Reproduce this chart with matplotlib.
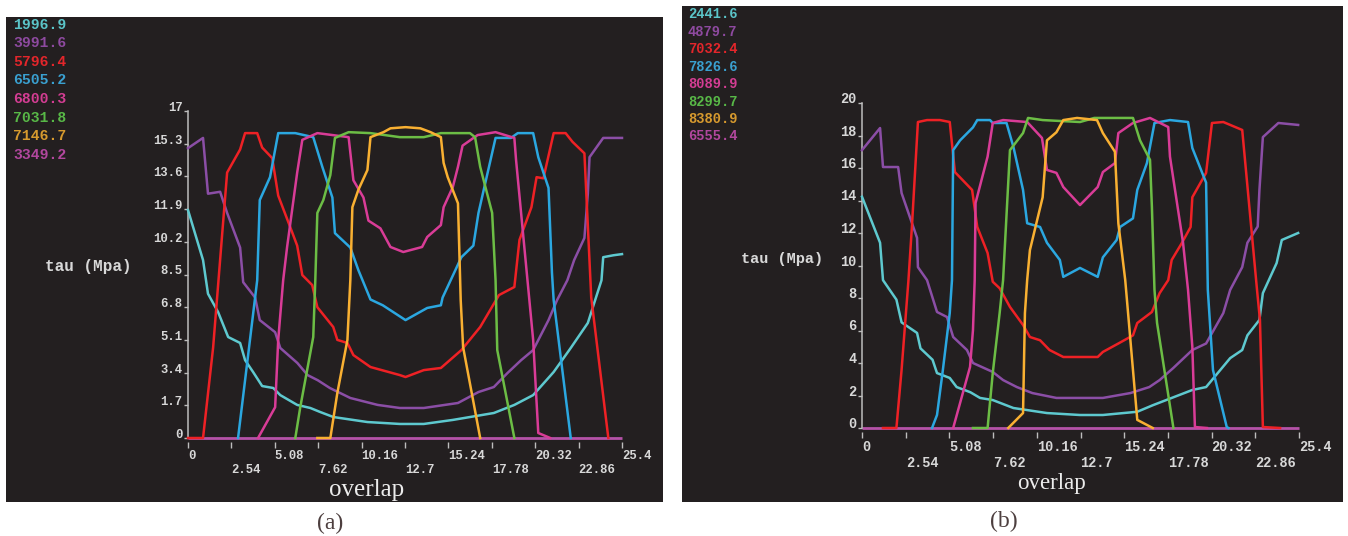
import matplotlib.pyplot as plt

plt.rcParams['font.family'] = ['Liberation Mono', 'DejaVu Sans Mono']
plt.rcParams['font.weight'] = 'bold'

W, H = 1348, 536
BG = '#231f20'
TXT = '#d8d8d8'

colors = ['#5ec9cf', '#8b4ea6', '#ee2125', '#2ba7e0', '#d93c97', '#6cbd45', '#f9b032']
legend_colors = ['#5bc5c9', '#8e4aa0', '#e3262b', '#3aa0d0', '#d43d93', '#58b847', '#d79a2e', '#b2479e']
zero_color = '#b552a8'

# ---- panel (a) data ----
labels_a = ['1996.9', '3991.6', '5796.4', '6505.2', '6800.3', '7031.8', '7146.7', '3349.2']

cyan_a_x = [0, 0.88, 1.17, 1.76, 2.35, 3.05, 3.34, 3.81, 4.34, 4.99, 5.40, 6.39, 7.16, 7.74, 8.51,
            10.5, 12.4, 13.8, 15.5, 17.9, 19.1, 20.2, 21.4, 22.4, 23.4, 24.2, 24.3, 24.9, 25.4]
cyan_a_y = [11.85, 9.25, 7.5, 6.55, 5.25, 4.94, 4.05, 3.43, 2.70, 2.60, 2.23, 1.72, 1.56, 1.35, 1.09,
            0.83, 0.73, 0.73, 0.94, 1.30, 1.72, 2.23, 3.43, 4.68, 5.98, 8.2, 9.4, 9.5, 9.56]

purple_a_x = [0, 0.88, 1.17, 1.88, 2.29, 3.05, 3.23, 3.93, 4.2, 5.1, 5.4, 6.4, 7.0, 7.6, 8.3, 9.5,
              11.1, 12.4, 13.8, 15.8, 17.0, 17.9, 18.7, 19.5, 20.2, 21.1, 21.6, 22.2, 22.6, 23.2,
              23.4, 23.5, 24.3, 25.4]
purple_a_y = [15.07, 15.6, 12.7, 12.8, 11.7, 9.9, 8.1, 7.3, 6.13, 5.5, 4.68, 3.9, 3.27, 3.0, 2.6, 2.08,
              1.72, 1.56, 1.56, 1.82, 2.39, 2.65, 3.38, 4.05, 4.57, 6.13, 7.17, 8.2, 9.25, 10.4,
              12.7, 14.6, 15.6, 15.6]

red_a_x = [0, 0.88, 1.47, 2.0, 2.29, 3.05, 3.34, 4.05, 4.34, 4.93, 5.28, 5.98, 6.39, 6.69, 7.27,
           7.57, 8.5, 8.74, 9.33, 9.68, 10.68, 12.4, 12.73, 13.8, 14.8, 16.0, 17.1, 18.2, 19.1,
           19.4, 20.1, 20.4, 20.8, 21.4, 22.1, 22.5, 23.2, 23.6, 24.6]
red_a_y = [0, 0, 4.7, 10.6, 13.8, 15.0, 15.85, 15.85, 15.1, 14.55, 12.6, 10.97, 10.0, 8.47, 7.95,
           6.8, 5.77, 5.1, 4.94, 4.31, 3.69, 3.27, 3.17, 3.53, 3.64, 4.57, 5.77, 7.43, 7.85,
           10.3, 12.0, 13.56, 13.5, 15.85, 15.85, 15.4, 14.8, 7.3, 0]

blue_a_x = [2.93, 4.05, 4.2, 4.8, 5.28, 6.28, 7.33, 7.86, 8.45, 8.6, 9.5, 9.97, 10.68, 11.4, 12.73,
            14.0, 14.8, 14.9, 16.0, 16.7, 17.0, 18.0, 18.9, 19.3, 20.2, 20.5, 21.1, 21.3, 21.4, 22.4]
blue_a_y = [0, 8.2, 12.37, 13.56, 15.85, 15.85, 15.64, 14.1, 12.5, 10.65, 9.9, 8.73, 7.2, 6.9, 6.13,
            6.76, 6.9, 7.3, 9.4, 10.0, 11.7, 15.6, 15.6, 15.85, 15.85, 14.6, 13.0, 8.6, 7.17, 0]

pink_a_x = [4.1, 5.1, 5.28, 5.57, 5.8, 6.39, 6.69, 7.57, 8.45, 9.4, 9.68, 10.27, 10.56, 11.26, 11.85,
            12.6, 13.7, 14.0, 14.8, 14.96, 15.5, 15.8, 16.07, 16.95, 18.0, 19.1, 19.2, 20.2, 20.5, 21.2]
pink_a_y = [0, 1.6, 5.1, 8.2, 9.93, 13.8, 15.5, 15.85, 15.75, 15.64, 13.4, 12.5, 11.3, 10.9, 9.93,
            9.67, 9.93, 10.45, 11.07, 12.0, 13.05, 14.1, 15.2, 15.75, 15.9, 15.6, 14.45, 5.1, 0.26, 0]

green_a_x = [6.28, 6.57, 7.33, 7.45, 7.57, 7.92, 8.33, 8.6, 9.4, 10.68, 12.4, 13.8, 14.8, 16.5, 16.8,
             17.1, 17.8, 18.0, 18.1, 19.1]
green_a_y = [0, 1.6, 5.25, 8.2, 11.7, 12.37, 13.67, 15.6, 15.9, 15.85, 15.64, 15.64, 15.85, 15.85, 15.64,
             14.1, 11.7, 8.2, 4.57, 0]

orange_a_x = [7.57, 8.33, 8.74, 9.33, 9.5, 9.62, 9.97, 10.5, 10.68, 11.44, 11.85, 12.73, 13.6, 14.2,
              14.8, 14.96, 15.2, 15.8, 15.84, 15.96, 16.1, 17.1]
orange_a_y = [0, 0, 2.34, 5.1, 8.2, 12.0, 12.9, 13.93, 15.64, 15.9, 16.1, 16.16, 16.1, 15.9,
              15.64, 14.3, 13.56, 12.2, 10.97, 7.17, 4.73, 0]

zero_a_x = [0, 25.4]
zero_a_y = [0, 0]

yticks_a = [0, 1.7, 3.4, 5.1, 6.8, 8.5, 10.2, 11.9, 13.6, 15.3, 17]
ytick_labels_a = ['0', '1.7', '3.4', '5.1', '6.8', '8.5', '10.2', '11.9', '13.6', '15.3', '17']

# ---- panel (b) data ----
labels_b = ['2441.6', '4879.7', '7032.4', '7826.6', '8089.9', '8299.7', '8380.9', '6555.4']

cyan_b_x = [0, 1.05, 1.22, 2.0, 2.3, 3.2, 3.4, 4.1, 4.36, 5.1, 5.5, 6.3, 6.86, 7.6, 8.8, 10.75,
            12.67, 14.0, 16.0, 16.9, 19.2, 20.0, 21.4, 22.1, 22.4, 23.1, 23.3, 24.1, 24.4, 25.35]
cyan_b_y = [14.23, 11.4, 9.1, 7.9, 6.5, 5.85, 4.9, 4.2, 3.38, 3.08, 2.52, 2.2, 1.85, 1.72, 1.23, 0.92,
            0.8, 0.8, 1.0, 1.4, 2.34, 2.52, 4.3, 4.8, 5.7, 6.65, 8.3, 10.15, 11.57, 12.0]

purple_b_x = [0, 1.05, 1.22, 2.1, 2.3, 3.2, 3.25, 3.78, 4.36, 4.94, 5.3, 6.1, 6.45, 7.6, 8.2, 9.0,
              9.9, 11.3, 12.67, 14.0, 15.6, 16.7, 17.3, 18.1, 19.2, 20.0, 21.0, 21.4, 22.1, 22.4,
              23.0, 23.1, 23.3, 24.2, 25.35]
purple_b_y = [17.1, 18.46, 16.06, 16.06, 14.46, 11.7, 9.9, 9.1, 7.14, 6.83, 5.6, 4.8, 4.0, 3.45, 2.95,
              2.52, 2.15, 1.85, 1.85, 1.85, 2.15, 2.52, 2.95, 3.7, 4.8, 5.2, 7.07, 8.5, 9.9, 11.4,
              12.4, 14.65, 17.9, 18.77, 18.65]

red_b_x = [1.22, 2.0, 2.3, 2.7, 2.9, 3.25, 3.78, 4.53, 5.1, 5.4, 6.4, 6.7, 7.3, 7.6, 8.0, 8.6, 9.36,
           9.76, 10.35, 10.9, 11.7, 13.7, 14.0, 14.9, 15.75, 16.0, 16.85, 17.3, 17.8, 18.0, 18.6,
           19.1, 19.2, 20.0, 20.34, 21.0, 22.1, 22.96, 23.13, 23.3, 24.3]
red_b_y = [0, 0, 3.57, 9.1, 12.37, 18.83, 18.95, 18.95, 18.83, 15.75, 14.65, 12.37, 10.77, 9.0, 8.6,
           7.45, 6.34, 5.6, 5.4, 4.8, 4.37, 4.37, 4.68, 5.2, 5.7, 6.46, 7.14, 8.3, 9.1, 10.34, 11.4,
           12.37, 14.2, 15.7, 18.77, 18.83, 18.34, 8.5, 6.65, 0.06, 0]

blue_b_x = [4.07, 4.36, 4.7, 5.1, 5.23, 5.3, 5.7, 6.45, 6.7, 7.44, 7.6, 8.4, 8.8, 9.36, 9.6, 10.35,
            10.75, 11.5, 11.7, 12.67, 13.7, 14.0, 14.8, 15.0, 15.75, 16.0, 16.56, 17.0, 17.9, 18.95,
            19.2, 20.0, 20.1, 20.4, 21.2, 21.3]
blue_b_y = [0, 0.8, 3.57, 7.07, 9.1, 17.1, 17.7, 18.5, 18.95, 18.95, 18.77, 18.77, 17.3, 14.65, 12.6,
            12.37, 11.4, 10.34, 9.3, 9.85, 9.3, 10.5, 11.57, 12.37, 12.9, 14.65, 16.3, 18.77, 18.95,
            18.83, 17.23, 15.1, 8.5, 3.57, 0.06, 0]

pink_b_x = [5.3, 6.28, 6.45, 6.55, 6.6, 7.3, 7.6, 8.2, 9.6, 10.46, 10.75, 11.3, 11.7, 12.67, 13.7,
            14.0, 14.7, 14.9, 15.75, 16.74, 17.8, 17.9, 18.66, 18.95, 19.2, 19.35, 20.05]
pink_b_y = [0, 3.76, 6.03, 9.1, 13.85, 16.7, 18.77, 18.95, 18.83, 17.85, 15.88, 15.7, 14.83, 13.72,
            14.83, 15.75, 16.3, 18.15, 18.77, 19.08, 18.52, 16.7, 11.4, 8.5, 5.0, 0.06, 0]

green_b_x = [6.45, 7.3, 7.6, 8.0, 8.2, 8.6, 9.36, 9.65, 10.5, 12.67, 13.5, 15.0, 15.75, 16.16, 16.74,
             16.85, 17.0, 17.15, 18.1]
green_b_y = [0, 0, 3.38, 7.07, 9.1, 17.1, 18.15, 19.08, 18.95, 18.83, 19.08, 19.08, 19.08, 17.7, 16.5,
             13.6, 8.5, 6.46, 0]

orange_b_x = [8.5, 9.36, 9.47, 9.6, 9.76, 10.5, 10.75, 11.3, 11.7, 12.5, 13.66, 14.0, 14.7, 14.9,
              15.3, 16.0, 16.9]
orange_b_y = [0, 0.92, 7.07, 9.1, 10.95, 14.2, 17.7, 18.2, 18.95, 19.08, 18.95, 18.15, 17.0, 12.6,
              9.1, 0.5, 0]

zero_b_x = [0, 25.4]
zero_b_y = [0, 0]

yticks_b = [0, 2, 4, 6, 8, 10, 12, 14, 16, 18, 20]
ytick_labels_b = [str(v) for v in yticks_b]

xticks = [0, 2.54, 5.08, 7.62, 10.16, 12.7, 15.24, 17.78, 20.32, 22.86, 25.4]
xtick_labels = ['0', '2.54', '5.08', '7.62', '10.16', '12.7', '15.24', '17.78', '20.32', '22.86', '25.4']


def box(x0, y0, x1, y1):
    # pixel box (top-left origin) -> figure fraction
    return [x0 / W, 1 - y1 / H, (x1 - x0) / W, (y1 - y0) / H]


def draw_panel(fig, bg_box, ax_box, curves, zero, ymax, yticks, ylabels, fs):
    bg = fig.add_axes(box(*bg_box), zorder=0)
    bg.set_facecolor(BG)
    bg.set_xticks([])
    bg.set_yticks([])
    for s in bg.spines.values():
        s.set_visible(False)

    ax = fig.add_axes(box(*ax_box), zorder=1)
    ax.set_facecolor('none')
    ax.plot(zero[0], zero[1], color=zero_color, lw=2.0, clip_on=False, zorder=2,
            solid_capstyle='butt')
    for (xs, ys), c in zip(curves, colors):
        ax.plot(xs, ys, color=c, lw=1.8, clip_on=False, zorder=3)

    ax.set_xlim(0, 25.4)
    ax.set_ylim(0, ymax)
    for side in ['top', 'right', 'bottom']:
        ax.spines[side].set_visible(False)
    ax.spines['left'].set_color('#bdbdbd')
    ax.spines['left'].set_linewidth(1.1)
    ax.spines['bottom'].set_position(('outward', 3))

    ax.set_yticks(yticks)
    ax.set_yticklabels(ylabels, va='baseline')
    ax.tick_params(axis='y', direction='out', length=3, width=1, color='#bdbdbd',
                   pad=1, labelsize=fs, labelcolor=TXT)

    ax.set_xticks(xticks)
    xl = [t if i % 2 == 0 else '\n' + t for i, t in enumerate(xtick_labels)]
    ax.set_xticklabels(xl, ha='left')
    ax.tick_params(axis='x', direction='out', length=4.3, width=1, color='#bdbdbd',
                   pad=1.5, labelsize=fs, labelcolor=TXT)
    return ax


fig = plt.figure(figsize=(W / 100, H / 100), dpi=100)
fig.patch.set_facecolor('white')

curves_a = [(cyan_a_x, cyan_a_y), (purple_a_x, purple_a_y), (red_a_x, red_a_y), (blue_a_x, blue_a_y),
            (pink_a_x, pink_a_y), (green_a_x, green_a_y), (orange_a_x, orange_a_y)]
curves_b = [(cyan_b_x, cyan_b_y), (purple_b_x, purple_b_y), (red_b_x, red_b_y), (blue_b_x, blue_b_y),
            (pink_b_x, pink_b_y), (green_b_x, green_b_y), (orange_b_x, orange_b_y)]

draw_panel(fig, (6, 17, 663, 502), (188, 111, 622, 438), curves_a, (zero_a_x, zero_a_y),
           17, yticks_a, ytick_labels_a, 8.8)
draw_panel(fig, (682, 6, 1343, 502), (862, 103, 1299, 428), curves_b, (zero_b_x, zero_b_y),
           20, yticks_b, ytick_labels_b, 9.8)

# series value labels
for i, (t, c) in enumerate(zip(labels_a, legend_colors)):
    fig.text(13 / W, 1 - (24.7 + 18.6 * i) / H, t, color=c, fontsize=10.6, ha='left', va='center')
for i, (t, c) in enumerate(zip(labels_b, legend_colors)):
    fig.text(688 / W, 1 - (14.5 + 17.4 * i) / H, t, color=c, fontsize=9.9, ha='left', va='center')

fig.text(45 / W, 1 - 267 / H, 'tau (Mpa)', color=TXT, fontsize=11.5, ha='left', va='center')
fig.text(741 / W, 1 - 259 / H, 'tau (Mpa)', color=TXT, fontsize=11, ha='left', va='center')

fig.text(367 / W, 1 - 490 / H, 'overlap', color='#ececec', fontsize=18, ha='center', va='center',
         family='Liberation Serif', weight='normal')
fig.text(1052 / W, 1 - 483 / H, 'overlap', color='#ececec', fontsize=16.5, ha='center', va='center',
         family='Liberation Serif', weight='normal')

fig.text(330 / W, 1 - 523 / H, '(a)', color='#4d3f3f', fontsize=17, ha='center', va='center',
         family='Liberation Serif', weight='normal')
fig.text(1004 / W, 1 - 521 / H, '(b)', color='#4d3f3f', fontsize=17, ha='center', va='center',
         family='Liberation Serif', weight='normal')

fig.savefig('out.png', dpi=100, facecolor='white')
